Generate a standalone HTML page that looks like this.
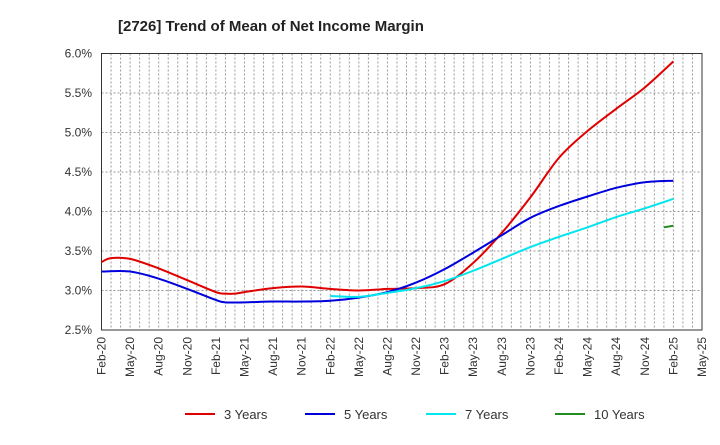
<!DOCTYPE html>
<html><head><meta charset="utf-8"><style>
body{margin:0;background:#fff;font-family:"Liberation Sans",sans-serif}
svg text{font-family:"Liberation Sans",sans-serif}
</style></head><body>
<svg id="c" width="720" height="440" viewBox="0 0 720 440">
<text x="118" y="31" font-size="15" font-weight="bold" fill="#222">[2726]  Trend of Mean of Net Income Margin</text>
<g id="grid"></g><g id="axes"></g><g id="series"></g><g id="legend"></g>
</svg>
<script>
const xLabels=["Feb-20","May-20","Aug-20","Nov-20","Feb-21","May-21","Aug-21","Nov-21","Feb-22","May-22","Aug-22","Nov-22","Feb-23","May-23","Aug-23","Nov-23","Feb-24","May-24","Aug-24","Nov-24","Feb-25","May-25"];
const yTicks=[2.5,3.0,3.5,4.0,4.5,5.0,5.5,6.0];
const m3=[0,1,3,6,9,12,13,14,15,18,21,24,27,30,33,36,39,42,45,48,51,54,57,60];
const v3=[3.36,3.41,3.40,3.28,3.13,2.98,2.96,2.96,2.98,3.03,3.05,3.02,3.00,3.02,3.03,3.08,3.35,3.73,4.18,4.68,5.02,5.30,5.57,5.90];
const m5=[0,3,6,9,12,13,15,18,21,24,27,30,33,36,39,42,45,48,51,54,57,60];
const v5=[3.24,3.24,3.15,3.02,2.88,2.85,2.85,2.86,2.86,2.87,2.91,2.98,3.10,3.27,3.48,3.70,3.92,4.07,4.19,4.30,4.37,4.39];
const m7=[24,27,30,33,36,39,42,45,48,51,54,57,60];
const v7=[2.93,2.92,2.97,3.03,3.12,3.25,3.40,3.55,3.68,3.80,3.93,4.04,4.16];
const m10=[59,60];
const v10=[3.80,3.82];
const NS="http://www.w3.org/2000/svg";
const L=101.5,R=702,T=53.5,B=330;
const X=m=>L+m*(R-L)/63;
const Y=v=>B-(v-2.5)*(B-T)/3.5;
function mk(tag,attrs,parent){const e=document.createElementNS(NS,tag);for(const k in attrs)e.setAttribute(k,attrs[k]);parent.appendChild(e);return e;}
const grid=document.getElementById('grid'),axes=document.getElementById('axes'),ser=document.getElementById('series'),leg=document.getElementById('legend');
for(let m=1;m<63;m++){const l=mk('line',{x1:X(m),x2:X(m),y1:T,y2:B,stroke:'#999','stroke-dasharray':'2,2','stroke-width':1},grid);

}
yTicks.forEach(v=>{if(v>2.5&&v<6){const l=mk('line',{x1:L,x2:R,y1:Y(v),y2:Y(v),stroke:'#999','stroke-dasharray':'2,2'},grid);

}
const t=mk('text',{x:92,y:Y(v)+4,'text-anchor':'end','font-size':12,fill:'#333'},axes);t.textContent=v.toFixed(1)+'%';

});
const fr=mk('rect',{x:L,y:T,width:R-L,height:B-T,fill:'none',stroke:'#333','stroke-width':1},axes);


xLabels.forEach((s,i)=>{const x=X(i*3);const t=mk('text',{transform:`translate(${x+4},337) rotate(-90)`,'text-anchor':'end','font-size':12,fill:'#333'},axes);t.textContent=s;

});
function path(ms,vs){const p=ms.map((m,i)=>[X(m),Y(vs[i])]);if(p.length<3)return 'M'+p.map(q=>q.join(',')).join('L');
let d='M'+p[0][0]+','+p[0][1];for(let i=0;i<p.length-1;i++){const p0=p[i-1]||p[i],p1=p[i],p2=p[i+1],p3=p[i+2]||p2;
const c1=[p1[0]+(p2[0]-p0[0])/6,p1[1]+(p2[1]-p0[1])/6],c2=[p2[0]-(p3[0]-p1[0])/6,p2[1]-(p3[1]-p1[1])/6];
d+=`C${c1[0]},${c1[1]} ${c2[0]},${c2[1]} ${p2[0]},${p2[1]}`;}return d;}
const S=[[m3,v3,'#e00000','3 Years','series-3-years',185],[m5,v5,'#0000dd','5 Years','series-5-years',305],[m7,v7,'#00e5ee','7 Years','series-7-years',426],[m10,v10,'#228b22','10 Years','series-10-years',555]];
S.forEach(([ms,vs,c,lab,n,lx])=>{const p=mk('path',{d:path(ms,vs),fill:'none',stroke:c,'stroke-width':2},ser);


const g=mk('g',{},leg);


mk('line',{x1:lx,x2:lx+30,y1:414,y2:414,stroke:c,'stroke-width':2},g);
const t=mk('text',{x:lx+39,y:419,'font-size':13,fill:'#333'},g);t.textContent=lab;});
</script>
</body></html>
